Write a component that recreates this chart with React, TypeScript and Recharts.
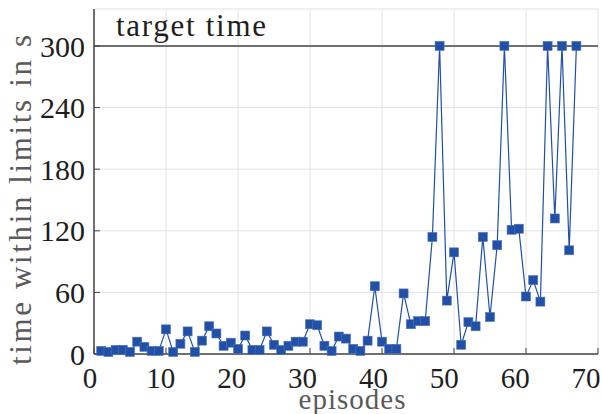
import { LineChart, Line, XAxis, YAxis, CartesianGrid, ReferenceLine } from 'recharts'

// ------------------------------------------------------------
// Time within limits per training episode
// ------------------------------------------------------------
const episodes = [
  1, 2, 3, 4, 5, 6, 7, 8, 9, 10, 11, 12, 13, 14, 15, 16, 17, 18, 19, 20,
  21, 22, 23, 24, 25, 26, 27, 28, 29, 30, 31, 32, 33, 34, 35, 36, 37, 38, 39, 40,
  41, 42, 43, 44, 45, 46, 47, 48, 49, 50, 51, 52, 53, 54, 55, 56, 57, 58, 59, 60,
  61, 62, 63, 64, 65, 66, 67,
]
const timeWithinLimits = [
  3, 2, 4, 4, 2, 12, 7, 3, 3, 24, 2, 10, 22, 2, 13, 27, 20, 8, 11, 5,
  18, 4, 4, 22, 9, 4, 8, 12, 12, 29, 28, 8, 3, 17, 15, 5, 3, 13, 66, 12,
  5, 5, 59, 29, 32, 32, 114, 300, 52, 99, 9, 31, 27, 114, 36, 106, 300, 121, 122, 56,
  72, 51, 300, 132, 300, 101, 300,
]
const xTicks = [0, 10, 20, 30, 40, 50, 60, 70]
const yTicks = [0, 60, 120, 180, 240, 300]
const targetTime = 300

const data = episodes.map((episode, i) => ({ episode, time: timeWithinLimits[i] }))

const FONT = '"Liberation Serif", "DejaVu Serif", serif'
const BLUE = '#2150a6'
const FRAME = '#454545'
const INK = '#1e1e1e'
const LABEL_GRAY = '#5a5a5a'

// marcador cuadrado
function SquareDot({ cx, cy }: { cx?: number; cy?: number }) {
  if (cx == null || cy == null) return null
  return (
    <rect x={cx - 4.5} y={cy - 4.5} width={9} height={9} fill={BLUE} stroke="#4d73bd" strokeWidth={0.6} />
  )
}

// etiquetas del eje x, algo corridas a la izquierda como en el original
function XTick({ x, y, payload }: { x?: number; y?: number; payload?: { value: number } }) {
  if (x == null || y == null || !payload) return null
  const shift = 4 + (payload.value / 70) * 8
  return (
    <text x={x - shift} y={y + 16} textAnchor="middle" fontSize={29} fill={INK} fontFamily={FONT}>
      {payload.value}
    </text>
  )
}

function XLabel() {
  return (
    <text x={352} y={409} textAnchor="middle" fontSize={29} fill={LABEL_GRAY} fontFamily={FONT} textLength={107}>
      episodes
    </text>
  )
}

function YLabel() {
  return (
    <text
      transform="translate(31, 200) rotate(-90)"
      textAnchor="middle"
      fontSize={31}
      fill={LABEL_GRAY}
      fontFamily={FONT}
      textLength={330}
    >
      time within limits in s
    </text>
  )
}

function TargetLabel({ viewBox }: { viewBox?: { x: number; y: number } }) {
  if (!viewBox) return null
  return (
    <text x={viewBox.x + 22} y={viewBox.y - 10} fontSize={31} fill={INK} fontFamily={FONT} textLength={150}>
      target time
    </text>
  )
}

export default function App() {
  const axisLine = { stroke: FRAME, strokeWidth: 1.5 }
  const tickLine = { stroke: FRAME, strokeWidth: 1 }

  return (
    <div style={{ position: 'absolute', left: 0, top: 0, background: '#fff' }}>
      <LineChart width={601} height={414} data={data} margin={{ top: 9, right: 3, bottom: 0, left: 0 }}>
        <CartesianGrid xAxisId="b" yAxisId="l" stroke="#e3e3e3" strokeWidth={1} />
        <XAxis
          xAxisId="b"
          dataKey="episode"
          type="number"
          domain={[0, 70]}
          ticks={xTicks}
          interval={0}
          height={60}
          tickSize={-6}
          tickMargin={24}
          axisLine={axisLine}
          tickLine={tickLine}
          tick={<XTick />}
          label={<XLabel />}
        />
        <XAxis
          xAxisId="t"
          orientation="top"
          type="number"
          domain={[0, 70]}
          ticks={xTicks}
          interval={0}
          height={0}
          tickSize={-6}
          axisLine={axisLine}
          tickLine={tickLine}
          tick={false}
        />
        <YAxis
          yAxisId="l"
          type="number"
          domain={[0, 336]}
          ticks={yTicks}
          interval={0}
          width={94}
          tickSize={-6}
          tickMargin={15}
          axisLine={axisLine}
          tickLine={tickLine}
          tick={{ fontSize: 30, fill: INK, fontFamily: FONT }}
          label={<YLabel />}
        />
        <YAxis
          yAxisId="r"
          orientation="right"
          type="number"
          domain={[0, 336]}
          ticks={yTicks}
          interval={0}
          width={0}
          tickSize={-6}
          axisLine={axisLine}
          tickLine={tickLine}
          tick={false}
        />
        <ReferenceLine
          xAxisId="b"
          yAxisId="l"
          y={targetTime}
          stroke={FRAME}
          strokeWidth={1.5}
          label={<TargetLabel />}
        />
        <Line
          xAxisId="b"
          yAxisId="l"
          type="linear"
          dataKey="time"
          stroke={BLUE}
          strokeWidth={1.2}
          dot={<SquareDot />}
          activeDot={false}
          isAnimationActive={false}
        />
      </LineChart>
    </div>
  )
}
